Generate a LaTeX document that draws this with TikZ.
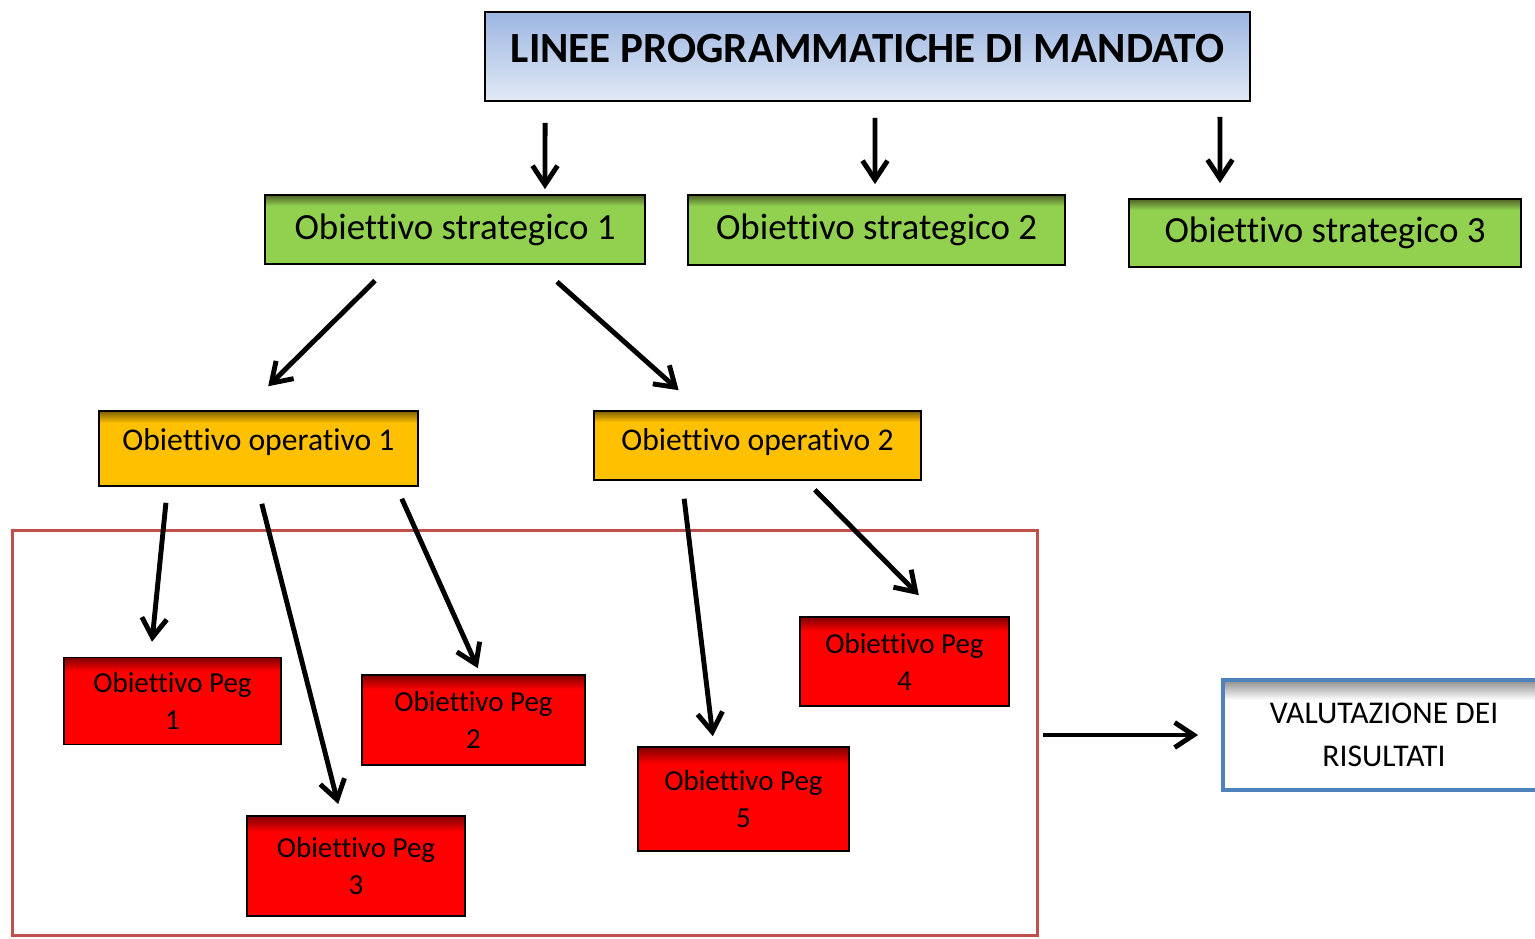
\documentclass[tikz,border=0pt]{standalone}
\usepackage{fontspec}
\setmainfont{Carlito}[Ligatures=NoCommon]
\usetikzlibrary{arrows.meta}

\definecolor{titletop}{HTML}{9CB6E1}
\definecolor{titlebot}{HTML}{E2EAF6}
\definecolor{stratgreen}{HTML}{92D050}
\definecolor{stratdark}{HTML}{4F6228}
\definecolor{opyellow}{HTML}{FFC000}
\definecolor{opdark}{HTML}{7F6000}
\definecolor{pegred}{HTML}{FF0000}
\definecolor{pegdark}{HTML}{7F0000}
\definecolor{framered}{HTML}{C0504D}
\definecolor{valblue}{HTML}{4F81BD}
\definecolor{valgray}{HTML}{8C8C8C}

% dark band along the upper edge of the boxes
\pgfdeclareverticalshading{stratshade}{100bp}{color(0bp)=(stratgreen); color(67bp)=(stratgreen); color(75bp)=(stratdark); color(100bp)=(stratdark)}
\pgfdeclareverticalshading{opshade}{100bp}{color(0bp)=(opyellow); color(67bp)=(opyellow); color(75bp)=(opdark); color(100bp)=(opdark)}
\pgfdeclareverticalshading{pegshade}{100bp}{color(0bp)=(pegred); color(67bp)=(pegred); color(75bp)=(pegdark); color(100bp)=(pegdark)}
\pgfdeclareverticalshading{valshade}{100bp}{color(0bp)=(white); color(66bp)=(white); color(75bp)=(valgray); color(100bp)=(valgray)}

\tikzset{
  box/.style={draw=black, line width=1pt, inner sep=0pt, align=center},
  strat/.style={box, shading=stratshade, font=\fontsize{21}{25}\selectfont},
  oper/.style={box, shading=opshade, font=\fontsize{18}{22}\selectfont},
  peg/.style={box, shading=pegshade, font=\fontsize{16.5}{21}\selectfont},
  arr/.style={line width=2.8pt, -{Straight Barb[length=0.38cm,width=0.5cm]}}
}

\begin{document}
\begin{tikzpicture}[x=0.02cm, y=-0.02cm]
\path[use as bounding box, clip] (0,0) rectangle (1535,938);

\node(title)[box, top color=titletop, bottom color=titlebot, minimum width=15.3cm, minimum height=1.78cm,
  text depth=9pt, font=\fontsize{24.5}{28}\selectfont\bfseries] at (867.5,56.5) {LINEE PROGRAMMATICHE DI MANDATO};

\node(s1)[strat, minimum width=7.6cm, minimum height=1.38cm] at (455,229.5) {Obiettivo strategico 1};
\node(s2)[strat, minimum width=7.54cm, minimum height=1.4cm] at (876.5,230) {Obiettivo strategico 2};
\node(s3)[strat, minimum width=7.84cm, minimum height=1.36cm] at (1325,233) {Obiettivo strategico 3};

\node(op1)[oper, minimum width=6.38cm, minimum height=1.5cm, text depth=10pt] at (258.5,448.5) {Obiettivo operativo 1};
\node(op2)[oper, minimum width=6.54cm, minimum height=1.38cm, text depth=7pt] at (757.5,445.5) {Obiettivo operativo 2};

\node(frame)[draw=framered, line width=1.7pt, minimum width=20.52cm, minimum height=8.12cm] at (525,733) {};

\node(peg1)[peg, minimum width=4.34cm, minimum height=1.74cm] at (172.5,701) {Obiettivo Peg\\1};
\node(peg2)[peg, minimum width=4.46cm, minimum height=1.8cm] at (473.5,720) {Obiettivo Peg\\2};
\node(peg3)[peg, minimum width=4.36cm, minimum height=2cm] at (356,866) {Obiettivo Peg\\3};
\node(peg4)[peg, minimum width=4.18cm, minimum height=1.78cm] at (904.5,661.5) {Obiettivo Peg\\4};
\node(peg5)[peg, minimum width=4.22cm, minimum height=2.08cm] at (743.5,799) {Obiettivo Peg\\5};

\node(val)[draw=valblue, line width=2.2pt, shading=valshade, inner sep=0pt, align=center,
  minimum width=6.44cm, minimum height=2.2cm, font=\fontsize{18}{24.4}\selectfont]
  at (1384,735) {VALUTAZIONE DEI\\RISULTATI};

\draw[arr, shorten <=0.42cm, shorten >=0.1cm]([xshift=-6.45cm]title.south) -- ([xshift=1.8cm]s1.north);
\draw[arr, shorten <=0.32cm, shorten >=0.2cm]([xshift=0.15cm]title.south) -- ([xshift=-0.03cm]s2.north);
\draw[arr, shorten <=0.3cm, shorten >=0.3cm]([xshift=7.05cm]title.south) -- ([xshift=-2.1cm]s3.north);
\draw[arr, shorten <=0.45cm, shorten >=0.68cm]([xshift=-1.28cm]s1.south) -- ([xshift=-0.29cm]op1.north);
\draw[arr, shorten <=0.51cm, shorten >=0.6cm]([xshift=1.66cm]s1.south) -- ([xshift=-1.13cm]op2.north);
\draw[arr, shorten <=0.32cm, shorten >=0.3cm]([xshift=-1.82cm]op1.south) -- ([xshift=-0.44cm]peg1.north);
\draw[arr, shorten <=0.35cm, shorten >=0.23cm]([xshift=-0.02cm]op1.south) -- ([xshift=-0.3cm]peg3.north);
\draw[arr, shorten <=0.26cm, shorten >=0.13cm]([xshift=2.76cm]op1.south) -- ([xshift=0.14cm]peg2.north);
\draw[arr, shorten <=0.36cm, shorten >=0.2cm]([xshift=-1.51cm]op2.south) -- ([xshift=-0.59cm]peg5.north);
\draw[arr, shorten <=0.25cm, shorten >=0.59cm]([xshift=0.97cm]op2.south) -- ([xshift=0.7cm]peg4.north);
\draw[arr, shorten <=0.08cm, shorten >=0.46cm](frame.east |- val.west) -- (val.west);
\end{tikzpicture}
\end{document}
